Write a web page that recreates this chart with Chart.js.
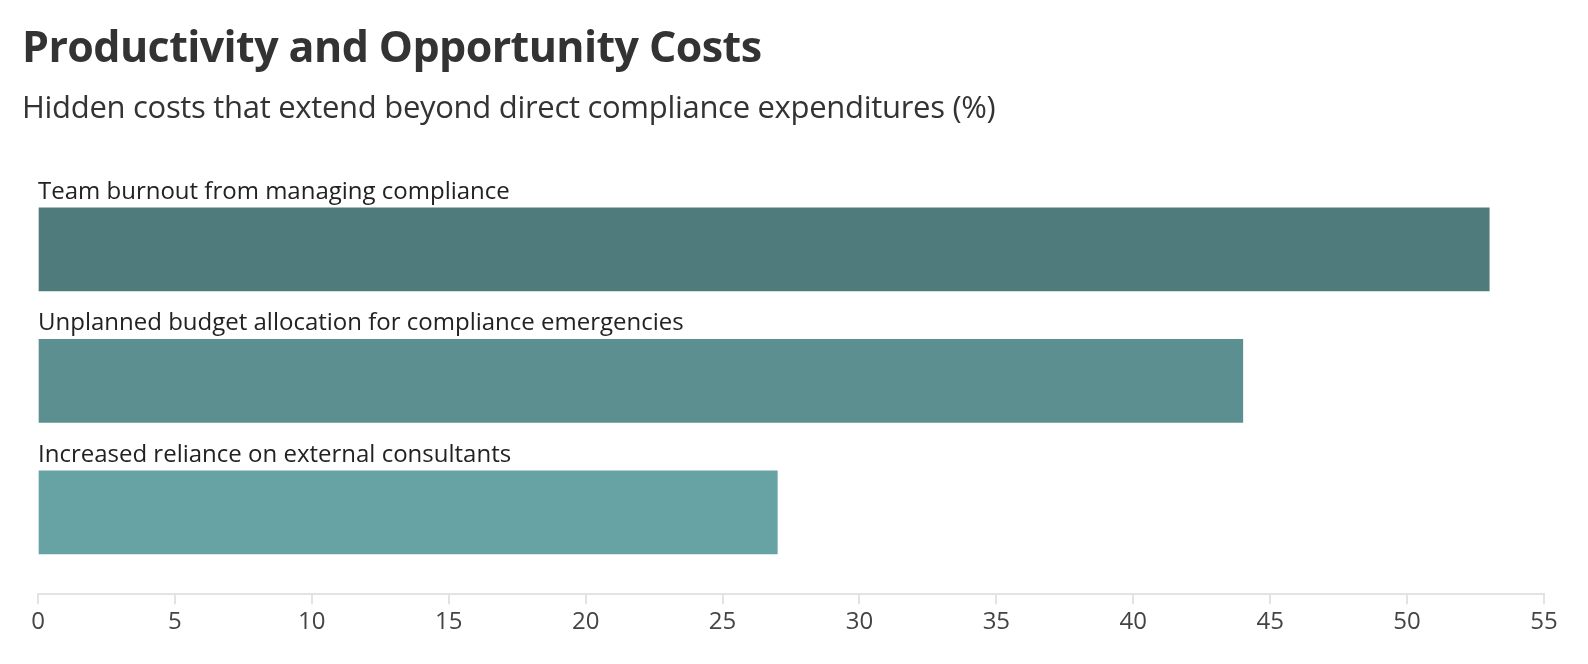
<!DOCTYPE html>
<html><head><meta charset="utf-8">
<script src="https://cdn.jsdelivr.net/npm/chart.js@4"></script>
<style>
body{margin:0;background:#fff;font-family:"Open Sans",sans-serif;color:#333;}
h1{position:absolute;left:22px;top:18px;margin:0;font-size:43px;line-height:56px;font-weight:700;color:#333;letter-spacing:-0.6px}
h2{position:absolute;left:22px;top:84px;margin:0;font-size:31px;line-height:44px;font-weight:400;color:#333;letter-spacing:-0.3px}
#wrap{position:absolute;left:0;top:0;width:1588px;height:664px}
</style></head><body>
<div id="wrap"><canvas id="c" width="1588" height="664"></canvas></div>
<h1>Productivity and Opportunity Costs</h1>
<h2>Hidden costs that extend beyond direct compliance expenditures (%)</h2>
<script>
const categories=["Team burnout from managing compliance","Unplanned budget allocation for compliance emergencies","Increased reliance on external consultants"];
const values=[53,44,27];
const colors=["#507b7c","#5b8f90","#67a3a4"];
const ticks=[0,5,10,15,20,25,30,35,40,45,50,55];
const labelPlugin={id:'lbl',afterDatasetsDraw(chart){
 const ctx=chart.ctx;const meta=chart.getDatasetMeta(0);
 ctx.save();ctx.font='24px "Open Sans"';ctx.fillStyle='#222';ctx.textBaseline='bottom';
 meta.data.forEach((b,i)=>{ctx.fillText(categories[i],chart.scales.x.getPixelForValue(0),b.y-b.height/2-4);});
 ctx.restore();}};
new Chart(document.getElementById('c'),{type:'bar',
 data:{datasets:[{data:values.map((v,i)=>({x:v,y:i})),backgroundColor:colors,barThickness:83}]},
 options:{indexAxis:'y',responsive:false,animation:false,
  layout:{padding:{left:38,right:44,top:162,bottom:23}},
  plugins:{legend:{display:false},tooltip:{enabled:false}},
  scales:{
   y:{type:'linear',reverse:true,min:-0.429,max:2.387,display:false},
   x:{type:'linear',min:0,max:55,afterBuildTicks(s){s.ticks=ticks.map(v=>({value:v}));},
    grid:{display:true,drawOnChartArea:false,tickLength:10,color:'#e3e3e3',lineWidth:2},
    border:{color:'#e3e3e3',width:2},
    ticks:{color:'#444',font:{size:24,family:'"Open Sans"'},padding:4,maxRotation:0,autoSkip:false}}
  }},plugins:[labelPlugin]});
</script></body></html>
